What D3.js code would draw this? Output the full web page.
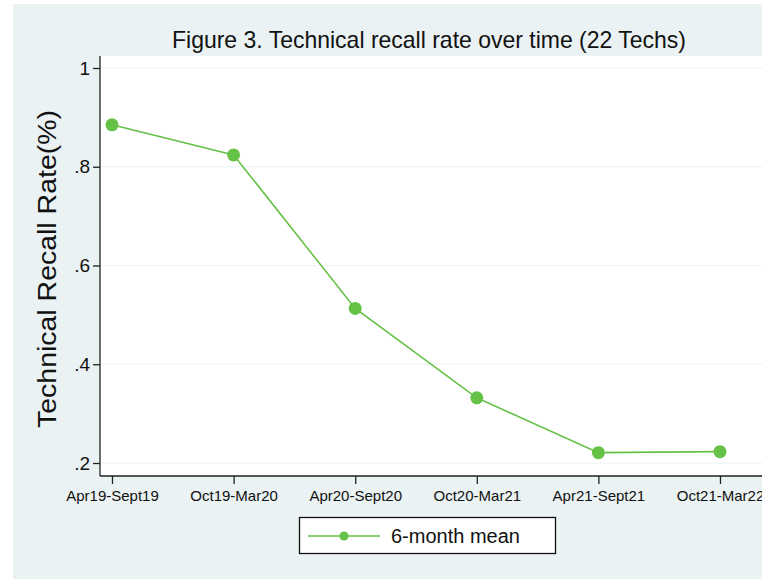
<!DOCTYPE html>
<html>
<head>
<meta charset="utf-8">
<script src="https://cdn.jsdelivr.net/npm/d3@7"></script>
<style>
  body { margin: 0; background: #fff; }
  svg text { font-family: "Liberation Sans", Arial, sans-serif; fill: #111; }
</style>
</head>
<body>
<div id="chart"></div>
<script>
// periods and 6-month means
var periods = ["Apr19-Sept19", "Oct19-Mar20", "Apr20-Sept20", "Oct20-Mar21", "Apr21-Sept21", "Oct21-Mar22"];
var means = [0.885, 0.824, 0.513, 0.332, 0.221, 0.223];
var yTicks = [0.2, 0.4, 0.6, 0.8, 1];

var width = 762, height = 579;
var green = "#66c147";

var svg = d3.select("#chart").append("svg")
    .attr("width", width)
    .attr("height", height);

// outer background
svg.append("rect")
    .attr("x", 13).attr("y", 4)
    .attr("width", width - 13).attr("height", height - 4)
    .attr("fill", "#eaf2f3");

// plot region
var plot = { left: 100, top: 56, right: 762, bottom: 475 };
svg.append("rect")
    .attr("x", plot.left).attr("y", plot.top)
    .attr("width", plot.right - plot.left).attr("height", plot.bottom - plot.top)
    .attr("fill", "#fff");

var x = d3.scaleLinear().domain([0, periods.length - 1]).range([112, 720]);
var y = d3.scaleLinear().domain([0.2, 1]).range([463, 68]);

// gridlines
svg.append("g").selectAll("line")
    .data(yTicks)
  .enter().append("line")
    .attr("x1", plot.left).attr("x2", plot.right)
    .attr("y1", function(d){ return y(d); })
    .attr("y2", function(d){ return y(d); })
    .attr("stroke", "#eaf2f3")
    .attr("stroke-width", 1.2);

// y axis
var yAxis = svg.append("g")
    .attr("transform", "translate(" + plot.left + ",0)")
    .call(d3.axisLeft(y).tickValues(yTicks).tickSize(7).tickPadding(3)
      .tickFormat(function(d){ return d === 1 ? "1" : d3.format(".1f")(d).replace(/^0/, ""); }));
yAxis.select(".domain").attr("d", "M0," + plot.top + "V" + (plot.bottom + 1)).attr("stroke", "#222").attr("stroke-width", 1.3);
yAxis.selectAll(".tick line").attr("stroke", "#222").attr("stroke-width", 1.3);
yAxis.selectAll(".tick text").attr("font-size", 19).attr("font-family", null).attr("fill", "#111");

// x axis
var xAxis = svg.append("g")
    .attr("transform", "translate(0," + (plot.bottom + 1) + ")")
    .call(d3.axisBottom(x).tickValues(d3.range(periods.length)).tickSize(8).tickPadding(6)
      .tickFormat(function(d){ return periods[d]; }));
xAxis.select(".domain").attr("d", "M" + plot.left + ",0H" + plot.right).attr("stroke", "#222").attr("stroke-width", 1.3);
xAxis.selectAll(".tick line").attr("stroke", "#222").attr("stroke-width", 1.3);
xAxis.selectAll(".tick text").attr("font-size", 15).attr("font-family", null).attr("fill", "#111");

// series line + markers
var line = d3.line()
    .x(function(d, i){ return x(i); })
    .y(function(d){ return y(d); });

svg.append("path")
    .datum(means)
    .attr("d", line)
    .attr("fill", "none")
    .attr("stroke", green)
    .attr("stroke-width", 1.6);

svg.append("g").selectAll("circle")
    .data(means)
  .enter().append("circle")
    .attr("cx", function(d, i){ return x(i); })
    .attr("cy", function(d){ return y(d); })
    .attr("r", 6.5)
    .attr("fill", green);

// title
svg.append("text")
    .attr("x", 172).attr("y", 48)
    .attr("font-size", 24)
    .attr("textLength", 514)
    .attr("lengthAdjust", "spacingAndGlyphs")
    .text("Figure 3. Technical recall rate over time (22 Techs)");

// y axis title
svg.append("text")
    .attr("transform", "translate(56,428) rotate(-90)")
    .attr("font-size", 26)
    .attr("textLength", 318)
    .attr("lengthAdjust", "spacingAndGlyphs")
    .text("Technical Recall Rate(%)");

// legend
var lg = svg.append("g");
lg.append("rect")
    .attr("x", 299.5).attr("y", 517.5)
    .attr("width", 256).attr("height", 36)
    .attr("fill", "#fff")
    .attr("stroke", "#111")
    .attr("stroke-width", 1.3);
lg.append("line")
    .attr("x1", 308).attr("x2", 380)
    .attr("y1", 536).attr("y2", 536)
    .attr("stroke", green).attr("stroke-width", 1.6);
lg.append("circle")
    .attr("cx", 344).attr("cy", 536).attr("r", 4.5)
    .attr("fill", green);
lg.append("text")
    .attr("x", 391).attr("y", 543)
    .attr("font-size", 20)
    .text("6-month mean");
</script>
</body>
</html>
